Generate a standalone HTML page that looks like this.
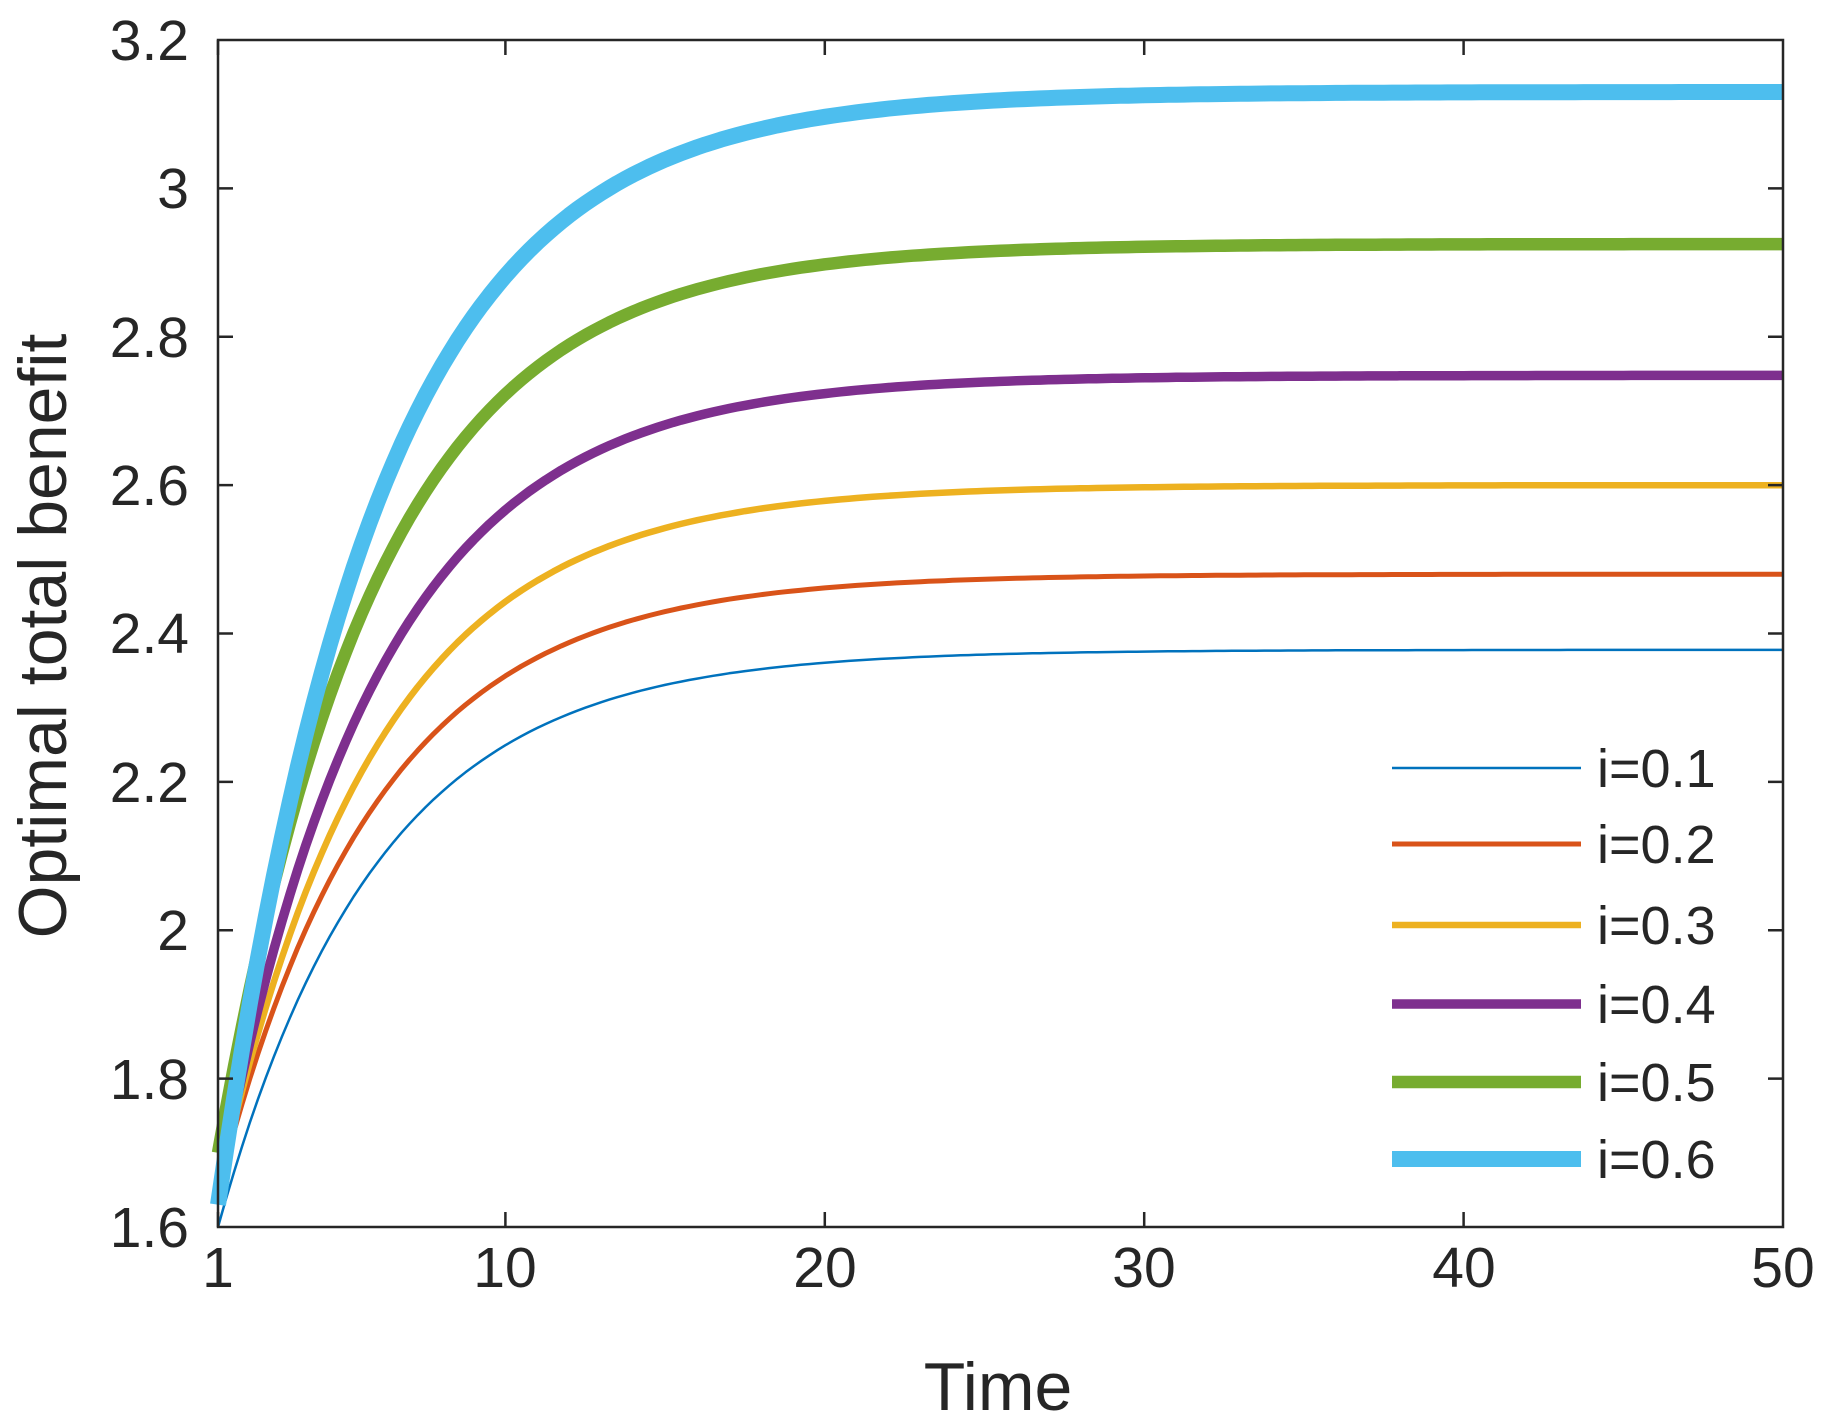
<!DOCTYPE html>
<html><head><meta charset="utf-8"><style>html,body{margin:0;padding:0;background:#fff}svg{display:block}text{font-family:"Liberation Sans",sans-serif;fill:#262626}</style></head>
<body>
<svg id="s" width="1830" height="1428" viewBox="0 0 1830 1428" xmlns="http://www.w3.org/2000/svg">
<rect width="1830" height="1428" fill="#fff"/>
<g id="curves" fill="none" stroke-linejoin="round"></g>
<rect x="218" y="40" width="1565" height="1187" fill="none" stroke="#262626" stroke-width="2.5"/>
<g stroke="#262626" stroke-width="2.5">
<path d="M218,1227v-15M505.4,1227v-15M824.8,1227v-15M1144.2,1227v-15M1463.6,1227v-15M218,40v15M505.4,40v15M824.8,40v15M1144.2,40v15M1463.6,40v15"/>
<path d="M218,1078.6h15M218,930.25h15M218,781.9h15M218,633.5h15M218,485.1h15M218,336.75h15M218,188.4h15M1783,1078.6h-15M1783,930.25h-15M1783,781.9h-15M1783,633.5h-15M1783,485.1h-15M1783,336.75h-15M1783,188.4h-15"/>
</g>
<g font-size="57" text-anchor="end">
<text x="189" y="1247">1.6</text><text x="189" y="1099">1.8</text><text x="189" y="950">2</text><text x="189" y="802">2.2</text><text x="189" y="653">2.4</text><text x="189" y="505">2.6</text><text x="189" y="357">2.8</text><text x="189" y="208">3</text><text x="189" y="60">3.2</text>
</g>
<g font-size="57" text-anchor="middle">
<text x="218" y="1287">1</text><text x="505" y="1287">10</text><text x="825" y="1287">20</text><text x="1144" y="1287">30</text><text x="1464" y="1287">40</text><text x="1783" y="1287">50</text>
<text x="998" y="1410" font-size="68">Time</text>
<text transform="translate(66,636) rotate(-90)" font-size="68">Optimal total benefit</text>
</g>
<g id="leg"></g>
<g font-size="54">
<text x="1597" y="787">i=0.1</text><text x="1597" y="863">i=0.2</text><text x="1597" y="944">i=0.3</text><text x="1597" y="1023">i=0.4</text><text x="1597" y="1101">i=0.5</text><text x="1597" y="1178">i=0.6</text>
</g>
</svg>
<script>
var S=[[1.60,2.378,2.5,"#0072bd",768],[1.65,2.48,5,"#d95319",844],[1.65,2.60,6.5,"#edb120",925],[1.65,2.748,9.5,"#7e2f8e",1004],[1.70,2.925,12.5,"#77ac30",1082],[1.63,3.13,16,"#4dbeee",1159]];
var g=document.getElementById('curves'),lg=document.getElementById('leg'),ns="http://www.w3.org/2000/svg";
function X(t){return 218+(t-1)/49*1565}function Y(v){return 1227-(v-1.6)/1.6*1187}
S.forEach(function(s){var d="";for(var t=1;t<=50.001;t+=0.25){var v=s[0]+(s[1]-s[0])*(1-Math.exp(-(t-1)/5));d+=(d?"L":"M")+X(t).toFixed(1)+","+Y(v).toFixed(1)}
var p=document.createElementNS(ns,"path");p.setAttribute("d",d);p.setAttribute("stroke",s[3]);p.setAttribute("stroke-width",s[2]);g.appendChild(p);
var l=document.createElementNS(ns,"path");l.setAttribute("d","M1392,"+s[4]+"H1581");l.setAttribute("stroke",s[3]);l.setAttribute("stroke-width",s[2]);lg.appendChild(l);});
</script>
</body></html>
